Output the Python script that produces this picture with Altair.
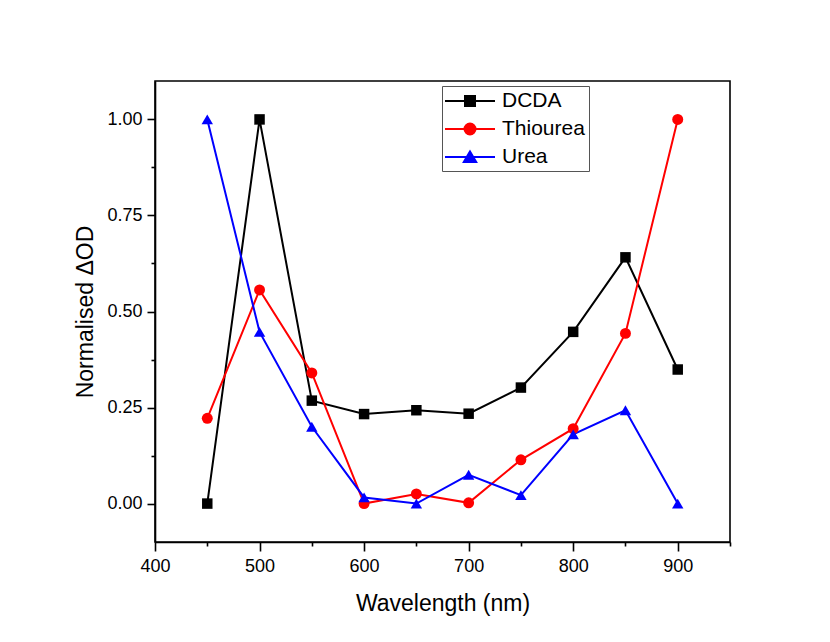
import altair as alt
import pandas as pd

wavelength = [450, 500, 550, 600, 650, 700, 750, 800, 850, 900]
dcda = [0.0, 1.0, 0.268, 0.233, 0.243, 0.234, 0.302, 0.447, 0.641, 0.349]
thiourea = [0.222, 0.556, 0.340, 0.0, 0.025, 0.002, 0.114, 0.195, 0.443, 1.0]
urea = [1.0, 0.447, 0.200, 0.016, 0.0, 0.075, 0.022, 0.180, 0.243, 0.0]

series_names = ["DCDA", "Thiourea", "Urea"]
series_colors = ["#000000", "#ff0000", "#0000ff"]
series_shapes = ["square", "circle", "triangle-up"]
series_sizes = [110, 130, 185]
legend_shapes = [
    "M-2.5,0H2.5M-0.5,-0.5H0.5V0.5H-0.5Z",
    "M-2.5,0H2.5M-0.55,0A0.55,0.55,0,1,1,0.55,0A0.55,0.55,0,1,1,-0.55,0Z",
    "M-2.5,0H2.5M0,-0.55L0.62,0.5L-0.62,0.5Z",
]

x_major = [400, 500, 600, 700, 800, 900]
x_minor = [450, 550, 650, 750, 850, 950]
y_major = [0.0, 0.25, 0.5, 0.75, 1.0]
y_minor = [0.125, 0.375, 0.625, 0.875]

rows = []
for name, vals in zip(series_names, [dcda, thiourea, urea]):
    for w, v in zip(wavelength, vals):
        rows.append({"Wavelength": w, "Value": v, "Series": name})
df = pd.DataFrame(rows)

FONT = "Liberation Sans"
xscale = alt.Scale(domain=[400, 950], nice=False, zero=False)
yscale = alt.Scale(domain=[-0.1, 1.1], nice=False, zero=False)
cscale = alt.Scale(domain=series_names, range=series_colors)

base = alt.Chart(df)

lines = base.mark_line(strokeWidth=2).encode(
    x=alt.X("Wavelength:Q", scale=xscale,
            axis=alt.Axis(values=x_major, format="d", title="Wavelength (nm)",
                          orient="bottom", tickSize=9, labelFlush=False,
                          labelPadding=6, titlePadding=17)),
    y=alt.Y("Value:Q", scale=yscale,
            axis=alt.Axis(values=y_major, format=".2f", title="Normalised ΔOD",
                          orient="left", tickSize=8, labelPadding=5,
                          titlePadding=9)),
    color=alt.Color("Series:N", scale=cscale, legend=None),
    detail="Series:N",
)

points = base.mark_point(filled=True, opacity=1).encode(
    x=alt.X("Wavelength:Q", scale=xscale, axis=None),
    y=alt.Y("Value:Q", scale=yscale, axis=None),
    color=alt.Color("Series:N", scale=cscale, legend=None),
    shape=alt.Shape("Series:N", scale=alt.Scale(domain=series_names, range=series_shapes), legend=None),
    size=alt.Size("Series:N", scale=alt.Scale(domain=series_names, range=series_sizes), legend=None),
)

leg = alt.Legend(title=None, orient="none", legendX=287, legendY=5, symbolOpacity=1)

legend_layer = base.mark_point(filled=True, opacity=0, strokeWidth=2).encode(
    x=alt.X("Wavelength:Q", scale=xscale,
            axis=alt.Axis(values=x_minor, labels=False, title=None, orient="bottom",
                          tickSize=4, domain=False)),
    y=alt.Y("Value:Q", scale=yscale,
            axis=alt.Axis(values=y_minor, labels=False, title=None, orient="left",
                          tickSize=4, domain=False)),
    color=alt.Color("Series:N", scale=cscale, legend=leg),
    stroke=alt.Stroke("Series:N", scale=cscale, legend=leg),
    shape=alt.Shape("Series:N", scale=alt.Scale(domain=series_names, range=legend_shapes),
                    legend=leg),
)

chart = alt.layer(lines, points, legend_layer).resolve_axis(
    x="independent", y="independent"
).resolve_scale(
    color="independent", shape="independent", size="independent", stroke="independent"
).properties(
    width=575, height=461,
    autosize=alt.AutoSizeParams(type="none"),
    padding={"left": 147, "top": 73, "right": 90, "bottom": 80},
    background="white",
).configure_view(
    stroke="#000000", strokeWidth=1.6
).configure_axis(
    grid=False, domainColor="#000000", domainWidth=1.6, tickColor="#000000",
    tickWidth=1.6, labelFont=FONT, titleFont=FONT, labelFontSize=18,
    titleFontSize=23, titleFontWeight="normal", labelColor="#000000",
    titleColor="#000000",
).configure_legend(
    strokeColor="#555555", fillColor="white", padding=4, labelFont=FONT,
    labelFontSize=21, labelColor="#000000", symbolSize=400, symbolStrokeWidth=2,
    symbolOffset=13, labelOffset=21, rowPadding=7, cornerRadius=0,
)

chart.save("out.html", embed_options={"renderer": "svg", "actions": False})
